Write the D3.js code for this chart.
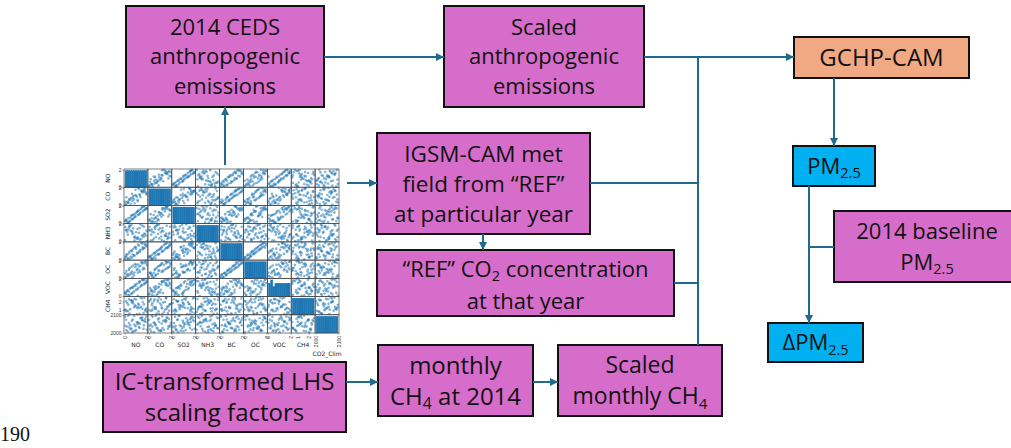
<!DOCTYPE html>
<html>
<head>
<meta charset="UTF-8">
<title>Emission scaling workflow</title>
<script src="https://cdn.jsdelivr.net/npm/d3@7"></script>
<style>
  body { margin: 0; background: #fff; }
  svg { display: block; }
</style>
</head>
<body>
<svg id="chart" width="1011" height="448"></svg>
<script>
// ---- LHS samples shown in the scatter matrix (one value per member) ----
var varNames = ["NO", "CO", "SO2", "NH3", "BC", "OC", "VOC", "CH4", "CO2_Clim"];
var NO  = [1.62,0.14,0.87,1.95,0.42,1.21,0.68,1.48,0.05,1.77,0.93,0.31,1.36,0.59,1.84,0.22,1.09,0.76,1.55,0.48,1.99,0.11,1.28,0.83,0.37,1.69,0.64,1.15,0.27,1.41,0.97,1.88,0.53,0.02,1.73,0.71,1.33,1.18,1.02,1.59];
var CO  = [1.45,0.88,0.17,1.21,0.71,1.98,0.47,1.67,0.06,1.58,1.13,0.26,1.16,0.79,1.84,0.32,0.94,1.02,1.55,0.62,1.36,0.01,1.87,0.63,0.52,1.72,1.29,0.57,0.22,0.91,1.77,1.49,0.12,0.34,1.93,0.83,1.24,0.44,1.08,1.62];
var SO2 = [1.37,0.35,1.05,1.72,0.19,1.46,0.51,1.67,0.28,1.93,0.74,0.57,1.12,0.86,1.58,0.04,1.31,0.97,1.83,0.66,1.75,0.43,1.01,0.62,0.13,1.97,0.92,1.38,0.09,1.23,0.78,1.64,0.33,0.24,1.52,0.47,1.56,0.96,1.18,1.88];
var NH3 = [0.73,1.35,0.09,1.24,1.86,0.45,1.03,0.26,1.67,0.91,0.57,1.39,0.17,1.92,0.82,1.12,0.34,1.51,0.65,1.75,0.03,1.31,0.99,0.49,1.63,0.52,1.17,1.44,0.78,1.97,0.38,0.62,1.26,0.13,1.71,0.86,1.55,0.29,1.06,1.83];
var BC  = [1.18,0.61,0.44,1.52,0.93,1.74,0.25,1.96,0.37,1.31,1.42,0.03,0.89,1.07,1.63,0.55,0.66,1.25,1.88,0.12,1.69,0.28,1.60,0.49,0.74,1.36,0.98,0.82,0.16,1.13,1.46,1.81,0.33,0.08,1.91,0.58,1.02,0.77,1.27,1.39];
var OC  = [0.97,0.79,0.62,1.74,1.12,1.55,0.04,1.83,0.53,1.06,1.61,0.19,0.68,1.29,1.92,0.31,0.87,1.44,1.67,0.36,1.49,0.11,1.33,0.27,0.92,1.17,0.73,1.03,0.40,1.38,1.24,1.98,0.56,0.02,1.71,0.47,0.84,0.58,1.52,1.86];
var VOC = [1.91,0.47,0.58,1.63,0.12,0.94,1.03,1.22,0.29,1.45,1.34,0.06,1.71,0.23,1.97,0.61,1.42,0.41,1.27,0.86,1.74,0.15,1.56,1.13,0.52,1.84,0.33,0.77,0.68,1.07,1.18,1.52,0.91,0.38,1.36,0.97,1.66,0.02,0.73,1.87];
var CH4 = [1.94,0.83,2.31,1.17,0.58,1.72,2.06,1.38,0.97,2.44,1.55,1.60,1.26,2.18,0.91,1.83,0.52,1.76,2.37,1.09,0.76,2.01,1.63,1.31,2.26,0.63,1.88,1.21,0.88,2.49,1.42,1.03,2.12,1.04,1.67,1.99,0.55,1.36,2.23,1.13];
var CO2_Clim = [2071,2014,2046,2093,2028,2057,2003,2085,2039,2066,2011,2098,2052,2024,2079,2035,2061,2008,2073,2043,2017,2074,2033,2096,2055,2022,2068,2049,2006,2083,2037,2062,2019,2091,2042,2076,2027,2058,2015,2087];
var columns = { NO: NO, CO: CO, SO2: SO2, NH3: NH3, BC: BC, OC: OC, VOC: VOC, CH4: CH4, CO2_Clim: CO2_Clim };
var tickValues = { NO: [0, 2], CO: [0, 2], SO2: [0, 2], NH3: [0, 2], BC: [0, 2], OC: [0, 2], VOC: [0, 2], CH4: [1, 2], CO2_Clim: [2000, 2100] };

// ---- flowchart nodes ----
var nodeIds = ["ceds", "scaledAnth", "gchp", "igsm", "refco2", "pm", "baseline", "dpm", "ic", "monthly", "scaledCh4"];
var nodeLabels = {
  ceds: ["2014 CEDS", "anthropogenic", "emissions"],
  scaledAnth: ["Scaled", "anthropogenic", "emissions"],
  gchp: ["GCHP-CAM"],
  igsm: ["IGSM-CAM met", "field from \u201cREF\u201d", "at particular year"],
  refco2: ["\u201cREF\u201d CO_{2} concentration", "at that year"],
  pm: ["PM_{2.5}"],
  baseline: ["2014 baseline", "PM_{2.5}"],
  dpm: ["\u0394PM_{2.5}"],
  ic: ["IC-transformed LHS", "scaling factors"],
  monthly: ["monthly", "CH_{4} at 2014"],
  scaledCh4: ["Scaled", "monthly CH_{4}"]
};
var nodeKind = { gchp: "model", pm: "output", dpm: "output" };

// layout (pixels)
var layout = {
  ceds:       { x: 126, y: 6,   w: 198, h: 101, fs: 22, lh: 29.5 },
  scaledAnth: { x: 444, y: 6,   w: 200, h: 101, fs: 22, lh: 29.5 },
  gchp:       { x: 794, y: 37,  w: 175, h: 41,  fs: 24, lh: 29 },
  igsm:       { x: 377, y: 133, w: 213, h: 101, fs: 22.5, lh: 30 },
  refco2:     { x: 377, y: 250, w: 297, h: 66,  fs: 22, lh: 32, dy: 2 },
  pm:         { x: 793, y: 146, w: 82,  h: 40,  fs: 22, lh: 29 },
  baseline:   { x: 834, y: 211, w: 186, h: 71,  fs: 22, lh: 31 },
  dpm:        { x: 768, y: 323, w: 95,  h: 39,  fs: 22, lh: 29 },
  ic:         { x: 103, y: 362, w: 243, h: 70,  fs: 24, lh: 31 },
  monthly:    { x: 378, y: 345, w: 155, h: 71,  fs: 24, lh: 31 },
  scaledCh4:  { x: 558, y: 345, w: 164, h: 71,  fs: 23, lh: 31 }
};
var fills = { process: "#d76dca", model: "#f1a984", output: "#00b0f0" };
var linkColor = "#1f6b8e";

var svg = d3.select("#chart");
var defs = svg.append("defs");
defs.append("marker")
  .attr("id", "arrow")
  .attr("viewBox", "0 0 10 10")
  .attr("refX", 10).attr("refY", 5)
  .attr("markerWidth", 4.2).attr("markerHeight", 4)
  .attr("orient", "auto")
  .append("path").attr("d", "M0,0L10,5L0,10z").attr("fill", linkColor);

// ---------------- scatter matrix ----------------
var M = { x: 124, y: 169, w: 215, h: 164 };
var colBand = d3.scaleBand().domain(varNames).range([M.x, M.x + M.w]);
var rowBand = d3.scaleBand().domain(varNames).range([M.y, M.y + M.h]);
var cw = colBand.bandwidth(), ch = rowBand.bandwidth();
var mat = svg.append("g").attr("font-family", "DejaVu Sans, sans-serif");

function padded(name) {
  var e = d3.extent(columns[name]);
  var p = (e[1] - e[0]) * 0.05;
  return [e[0] - p, e[1] + p];
}
var xs = {}, ys = {};
varNames.forEach(function (v) {
  xs[v] = d3.scaleLinear().domain(padded(v)).range([colBand(v), colBand(v) + cw]);
  ys[v] = d3.scaleLinear().domain(padded(v)).range([rowBand(v) + ch, rowBand(v)]);
});

varNames.forEach(function (rv) {
  varNames.forEach(function (cv) {
    var g = mat.append("g");
    if (rv === cv) {
      var e = d3.extent(columns[cv]);
      var step = (e[1] - e[0]) / 10;
      var bins = d3.bin().domain(e).thresholds(d3.range(1, 10).map(function (i) { return e[0] + i * step; }))(columns[cv]);
      var hy = d3.scaleLinear().domain([0, d3.max(bins, function (b) { return b.length; }) * 1.1]).range([rowBand(rv) + ch, rowBand(rv)]);
      g.selectAll("rect").data(bins).enter().append("rect")
        .attr("x", function (b) { return xs[cv](b.x0); })
        .attr("width", function (b) { return xs[cv](b.x1) - xs[cv](b.x0); })
        .attr("y", function (b) { return hy(b.length); })
        .attr("height", function (b) { return hy(0) - hy(b.length); })
        .attr("fill", "#1f77b4")
        .attr("stroke", "#1f77b4").attr("stroke-width", 0.5);
    } else {
      g.selectAll("circle").data(d3.range(columns[cv].length)).enter().append("circle")
        .attr("cx", function (i) { return xs[cv](columns[cv][i]); })
        .attr("cy", function (i) { return ys[rv](columns[rv][i]); })
        .attr("r", 1.3)
        .attr("fill", "#1f77b4")
        .attr("fill-opacity", 0.55);
    }
    g.append("rect")
      .attr("x", colBand(cv)).attr("y", rowBand(rv))
      .attr("width", cw).attr("height", ch)
      .attr("fill", "none").attr("stroke", "#444").attr("stroke-width", 0.7);
  });
});

// y ticks + row labels
varNames.forEach(function (v) {
  var axis = d3.axisLeft(ys[v]).tickValues(tickValues[v]).tickSize(1.5).tickPadding(1).tickFormat(d3.format("d"));
  mat.append("g").attr("transform", "translate(" + M.x + ",0)").call(axis)
    .call(function (g) {
      g.select(".domain").remove();
      g.selectAll("text").attr("font-size", 5).attr("fill", "#333");
      g.selectAll("line").attr("stroke", "#444").attr("stroke-width", 0.5);
    });
  if (v !== "CO2_Clim") {
    mat.append("text")
      .attr("transform", "translate(110," + (rowBand(v) + ch / 2) + ") rotate(-90)")
      .attr("text-anchor", "middle").attr("font-size", 6).attr("fill", "#222")
      .text(v);
  }
});
// x ticks + column labels
var bottom = M.y + M.h;
varNames.forEach(function (v) {
  var axis = d3.axisBottom(xs[v]).tickValues(tickValues[v]).tickSize(1.5).tickPadding(1).tickFormat(d3.format("d"));
  mat.append("g").attr("transform", "translate(0," + bottom + ")").call(axis)
    .call(function (g) {
      g.select(".domain").remove();
      g.selectAll("line").attr("stroke", "#444").attr("stroke-width", 0.5);
      g.selectAll("text").attr("font-size", 5).attr("fill", "#333")
        .attr("text-anchor", "end").attr("dy", null).attr("y", 0)
        .attr("transform", "translate(1.8,3) rotate(-90)");
    });
  mat.append("text")
    .attr("x", colBand(v) + cw / 2).attr("y", v === "CO2_Clim" ? bottom + 23 : bottom + 14)
    .attr("text-anchor", "middle").attr("font-size", 6).attr("fill", "#222")
    .text(v);
});

// ---------------- boxes ----------------
function writeLine(textSel, line, fs) {
  var parts = line.split(/(_\{[^}]*\})/);
  var shifted = false;
  parts.forEach(function (p) {
    if (!p) return;
    var m = p.match(/^_\{([^}]*)\}$/);
    if (m) {
      textSel.append("tspan").attr("font-size", fs * 0.66).attr("dy", fs * 0.2).text(m[1]);
      shifted = true;
    } else {
      var t = textSel.append("tspan").text(p);
      if (shifted) { t.attr("dy", -fs * 0.2); shifted = false; }
    }
  });
}

var nodes = svg.append("g").attr("font-family", "Open Sans, sans-serif");
nodeIds.forEach(function (id) {
  var b = layout[id];
  nodes.append("rect")
    .attr("x", b.x).attr("y", b.y).attr("width", b.w).attr("height", b.h)
    .attr("fill", fills[nodeKind[id] || "process"])
    .attr("stroke", "#111").attr("stroke-width", 2);
  var lines = nodeLabels[id];
  var cy = b.y + b.h / 2 + (b.dy || 0);
  lines.forEach(function (line, i) {
    var t = nodes.append("text")
      .attr("x", b.x + b.w / 2)
      .attr("y", cy + (i - (lines.length - 1) / 2) * b.lh + b.fs * 0.36)
      .attr("text-anchor", "middle")
      .attr("font-size", b.fs)
      .attr("fill", "#111");
    writeLine(t, line, b.fs);
  });
});

// ---------------- links ----------------
function L(id) { return layout[id]; }
var busX = 698;
var links = [
  { pts: [[225, 165], [225, L("ceds").y + L("ceds").h]], arrow: true },
  { pts: [[L("ceds").x + L("ceds").w, 57], [L("scaledAnth").x, 57]], arrow: true },
  { pts: [[L("scaledAnth").x + L("scaledAnth").w, 57], [L("gchp").x, 57]], arrow: true },
  { pts: [[busX, 57], [busX, L("scaledCh4").y]], arrow: false },
  { pts: [[L("igsm").x + L("igsm").w, 183], [busX, 183]], arrow: false },
  { pts: [[L("refco2").x + L("refco2").w, 283], [busX, 283]], arrow: false },
  { pts: [[347, 183], [L("igsm").x, 183]], arrow: true },
  { pts: [[483, L("igsm").y + L("igsm").h], [483, L("refco2").y]], arrow: true },
  { pts: [[L("ic").x + L("ic").w, 382], [L("monthly").x, 382]], arrow: true },
  { pts: [[L("monthly").x + L("monthly").w, 382], [L("scaledCh4").x, 382]], arrow: true },
  { pts: [[834, L("gchp").y + L("gchp").h], [834, L("pm").y]], arrow: true },
  { pts: [[809, L("pm").y + L("pm").h], [809, L("dpm").y]], arrow: true },
  { pts: [[L("baseline").x, 247], [809, 247]], arrow: false }
];
svg.append("g").selectAll("path").data(links).enter().append("path")
  .attr("d", function (d) { return d3.line()(d.pts); })
  .attr("fill", "none")
  .attr("stroke", linkColor)
  .attr("stroke-width", 2)
  .attr("marker-end", function (d) { return d.arrow ? "url(#arrow)" : null; });

// page line number
svg.append("text")
  .attr("x", 0).attr("y", 441)
  .attr("font-family", "Liberation Serif, serif")
  .attr("font-size", 20)
  .attr("fill", "#111")
  .text("190");
</script>
</body>
</html>
